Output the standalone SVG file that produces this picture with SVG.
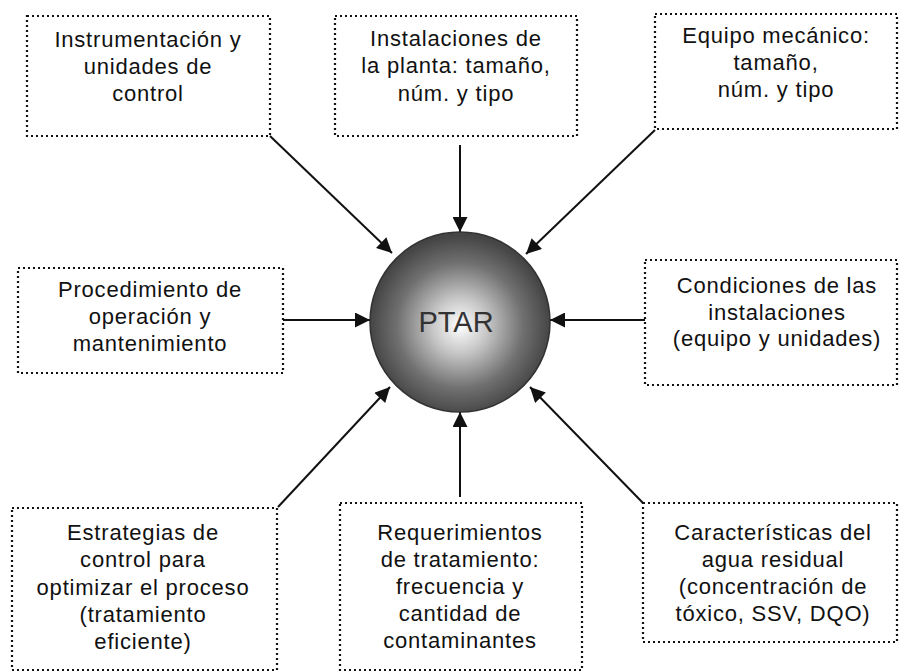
<svg xmlns="http://www.w3.org/2000/svg" width="901" height="672" viewBox="0 0 901 672">
<defs>
<style>
.box{fill:none;stroke:#111;stroke-width:2.2;stroke-dasharray:2 3}
.t{font-family:"Liberation Sans",Arial,sans-serif;font-size:22px;letter-spacing:0.8px;fill:#111;text-anchor:middle}
.c{stroke:#111;stroke-width:2;fill:none;marker-end:url(#ah)}
</style>
<marker id="ah" viewBox="0 0 10 10" refX="10" refY="5" markerWidth="17" markerHeight="15" markerUnits="userSpaceOnUse" orient="auto">
<path d="M0,0 L10,5 L0,10 Z" fill="#111"/>
</marker>
<radialGradient id="sph" cx="0.5" cy="0.52" r="0.5">
<stop offset="0" stop-color="#ffffff"/>
<stop offset="0.3" stop-color="#c8c8c8"/>
<stop offset="0.7" stop-color="#707070"/>
<stop offset="1" stop-color="#454545"/>
</radialGradient>
</defs>
<rect width="901" height="672" fill="#fff"/>
<g id="connectors">
<path class="c" d="M270,136 L392,253"/>
<path class="c" d="M460,145 L460,232"/>
<path class="c" d="M655,130 L526,254"/>
<path class="c" d="M283,320 L370,320"/>
<path class="c" d="M645,320 L550,320"/>
<path class="c" d="M278,507 L390,387"/>
<path class="c" d="M460,497 L460,412"/>
<path class="c" d="M643,503 L530,387"/>
</g>
<g id="ptar">
<circle cx="460" cy="322" r="90" fill="url(#sph)" stroke="#333" stroke-width="1.5"/>
<text x="456" y="332" class="t" style="font-size:29px;letter-spacing:0;fill:#333">PTAR</text>
</g>
<g id="n1">
<rect class="box" x="27" y="16" width="243" height="120"/>
<text class="t" x="148" y="47">Instrumentación y</text>
<text class="t" x="148" y="74">unidades de</text>
<text class="t" x="148" y="101">control</text>
</g>
<g id="n2">
<rect class="box" x="335" y="16" width="242" height="120"/>
<text class="t" x="456" y="46">Instalaciones de</text>
<text class="t" x="456" y="73">la planta: tamaño,</text>
<text class="t" x="456" y="101">núm. y tipo</text>
</g>
<g id="n3">
<rect class="box" x="655" y="14" width="242" height="115"/>
<text class="t" x="776" y="43">Equipo mecánico:</text>
<text class="t" x="776" y="70">tamaño,</text>
<text class="t" x="776" y="97">núm. y tipo</text>
</g>
<g id="n4">
<rect class="box" x="18" y="268" width="265" height="105"/>
<text class="t" x="150" y="297">Procedimiento de</text>
<text class="t" x="150" y="324">operación y</text>
<text class="t" x="150" y="351">mantenimiento</text>
</g>
<g id="n5">
<rect class="box" x="645" y="260" width="252" height="125"/>
<text class="t" x="777" y="293">Condiciones de las</text>
<text class="t" x="777" y="320">instalaciones</text>
<text class="t" x="777" y="346">(equipo y unidades)</text>
</g>
<g id="n6">
<rect class="box" x="12" y="508" width="265" height="162"/>
<text class="t" x="143" y="540">Estrategias de</text>
<text class="t" x="143" y="567">control para</text>
<text class="t" x="143" y="595">optimizar el proceso</text>
<text class="t" x="143" y="622">(tratamiento</text>
<text class="t" x="143" y="649">eficiente)</text>
</g>
<g id="n7">
<rect class="box" x="340" y="503" width="242" height="167"/>
<text class="t" x="460" y="540">Requerimientos</text>
<text class="t" x="460" y="567">de tratamiento:</text>
<text class="t" x="460" y="594">frecuencia y</text>
<text class="t" x="460" y="621">cantidad de</text>
<text class="t" x="460" y="648">contaminantes</text>
</g>
<g id="n8">
<rect class="box" x="643" y="503" width="254" height="139"/>
<text class="t" x="773" y="540">Características del</text>
<text class="t" x="773" y="567">agua residual</text>
<text class="t" x="773" y="594">(concentración de</text>
<text class="t" x="773" y="621">tóxico, SSV, DQO)</text>
</g>
</svg>
